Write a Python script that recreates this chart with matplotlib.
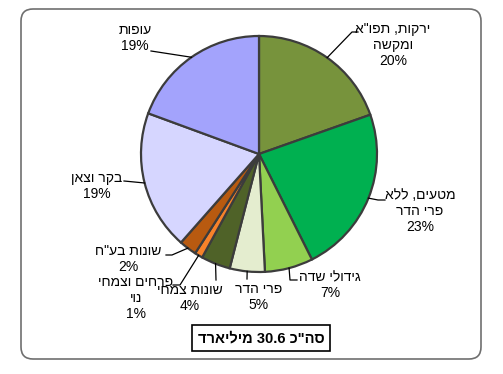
import numpy as np
import matplotlib
matplotlib.use("Agg")
import matplotlib.pyplot as plt
from matplotlib.patches import FancyBboxPatch

plt.rcParams['font.family'] = ['Liberation Sans', 'DejaVu Sans']

# share of total agricultural output (%), total 30.6 billion
categories = ['ירקות, תפו"א\nומקשה', 'מטעים, ללא\nפרי הדר', 'גידולי שדה', 'פרי הדר',
              'שונות צמחי', 'פרחים וצמחי\nנוי', 'שונות בע"ח', 'בקר וצאן', 'עופות']
values = [19.6, 23.0, 6.6, 4.8, 4.0, 1.1, 2.4, 19.1, 19.4]
colors = ['#77933C', '#00B050', '#92D050', '#E4EDCF', '#4F6228',
          '#F7822A', '#B85A10', '#D6D6FF', '#A3A3FC']
total_text = 'סה"כ 30.6 מיליארד'


def rtl(s):
    # matplotlib has no bidi support: flip word order and Hebrew letters
    out = []
    for line in s.split('\n'):
        words = line.split(' ')[::-1]
        words = [w[::-1] if any('\u0590' <= c <= '\u05ff' for c in w) else w for w in words]
        out.append(' '.join(words))
    return '\n'.join(out)


W, H = 503, 374
fig = plt.figure(figsize=(W / 100, H / 100), dpi=100)
ax = fig.add_axes([0, 0, 1, 1])
ax.set_xlim(0, W)
ax.set_ylim(0, H)
ax.set_aspect('equal')
ax.axis('off')

# outer rounded frame
frame = FancyBboxPatch((21, H - 359), 460, 350, boxstyle="round,pad=0,rounding_size=12",
                       fc='white', ec='#6f6f6f', lw=1.2)
ax.add_patch(frame)

cx, cy, r = 259, H - 154, 118
wedges, _ = ax.pie(values, colors=colors, startangle=90, counterclock=False,
                   center=(cx, cy), radius=r, frame=True,
                   wedgeprops=dict(edgecolor='#3c3c3c', linewidth=1.6))
ax.set_xlim(0, W)
ax.set_ylim(0, H)
ax.axis('off')

# label block centre (px from top) and leader path after the wedge anchor
label_pos = [(393, 45), (420, 211), (330, 285), (259, 297), (190, 298),
             (136, 298), (128, 259), (97, 186), (135, 38)]
leaders = [[(352, 32), (358, 32)],
           [(378, 200), (385, 200)],
           [(290, 280), (297, 280)],
           [(247, 279)],
           [(216, 280)],
           [(180, 285), (173, 285)],
           [(172, 255), (166, 255)],
           [(124, 181)],
           [(151, 51)]]

for w, cat, v, (lx, ly), path in zip(wedges, categories, values, label_pos, leaders):
    mid = np.deg2rad((w.theta1 + w.theta2) / 2)
    ax_pt = (cx + r * np.cos(mid), cy + r * np.sin(mid))
    xs = [ax_pt[0]] + [p[0] for p in path]
    ys = [ax_pt[1]] + [H - p[1] for p in path]
    ax.plot(xs, ys, color='black', lw=0.9)
    ax.text(lx, H - ly, rtl(cat) + f'\n{round(v):.0f}%', ha='center', va='center',
            fontsize=10, linespacing=1.15, color='black')

ax.text(261, H - 338, rtl(total_text), ha='center', va='center', fontsize=10.5,
        fontweight='bold',
        bbox=dict(boxstyle='square,pad=0.38', fc='white', ec='black', lw=1.2))

fig.savefig('out.png', dpi=100)
